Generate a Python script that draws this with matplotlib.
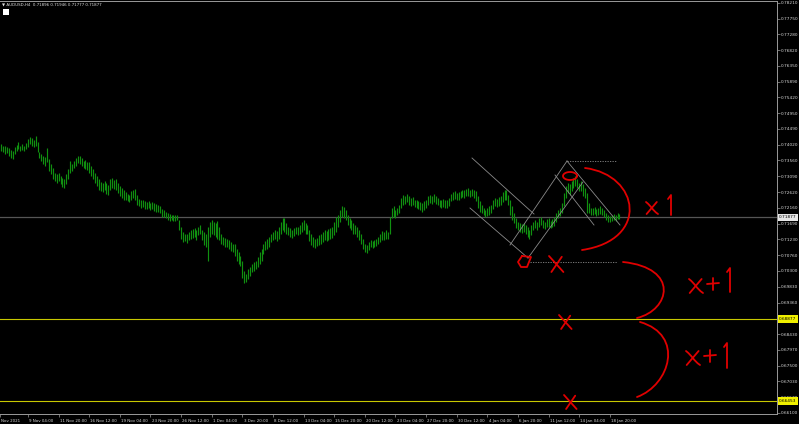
import numpy as np
import matplotlib
matplotlib.use("Agg")
import matplotlib.pyplot as plt
import matplotlib.transforms as mtransforms
from matplotlib.path import Path
from matplotlib.patches import PathPatch, Rectangle

# AUDUSD H4 bars, prices in pips (x 1e-4)
highs = [7405, 7400, 7398, 7395, 7392, 7388, 7385, 7395, 7402, 7410, 7400, 7405, 7398, 7408, 7420, 7425,
         7422, 7415, 7428, 7410, 7382, 7375, 7370, 7365, 7392, 7360, 7345, 7335, 7320, 7315, 7318, 7310,
         7305, 7300, 7315, 7330, 7355, 7345, 7355, 7362, 7370, 7368, 7362, 7355, 7358, 7352, 7350, 7340,
         7330, 7318, 7310, 7300, 7292, 7288, 7295, 7288, 7282, 7300, 7305, 7298, 7300, 7290, 7280, 7275,
         7268, 7262, 7258, 7255, 7265, 7270, 7272, 7255, 7242, 7238, 7240, 7235, 7232, 7235, 7230, 7233,
         7230, 7228, 7225, 7220, 7212, 7210, 7205, 7200, 7198, 7196, 7195, 7194, 7196, 7180, 7160, 7145,
         7140, 7138, 7145, 7150, 7152, 7155, 7150, 7160, 7165, 7150, 7145, 7140, 7160, 7175, 7180, 7175,
         7172, 7178, 7160, 7140, 7130, 7128, 7125, 7120, 7115, 7110, 7108, 7095, 7085, 7075, 7060, 7030,
         7020, 7035, 7040, 7050, 7055, 7058, 7070, 7085, 7095, 7110, 7118, 7125, 7130, 7140, 7145, 7150,
         7148, 7160, 7175, 7185, 7186, 7170, 7160, 7155, 7150, 7155, 7160, 7158, 7165, 7175, 7180, 7170,
         7165, 7150, 7140, 7130, 7125, 7128, 7135, 7140, 7145, 7150, 7148, 7152, 7155, 7158, 7175, 7190,
         7195, 7210, 7220, 7218, 7210, 7195, 7185, 7180, 7170, 7165, 7160, 7150, 7140, 7125, 7110, 7105,
         7115, 7120, 7118, 7122, 7125, 7130, 7140, 7148, 7145, 7150, 7145, 7190, 7215, 7220, 7210, 7215,
         7225, 7245, 7255, 7250, 7258, 7250, 7245, 7248, 7240, 7238, 7235, 7232, 7230, 7235, 7240, 7250,
         7255, 7252, 7258, 7250, 7245, 7240, 7238, 7242, 7240, 7238, 7245, 7258, 7262, 7265, 7260, 7262,
         7265, 7270, 7268, 7272, 7275, 7270, 7272, 7268, 7265, 7250, 7235, 7225, 7215, 7210, 7215, 7220,
         7225, 7240, 7245, 7242, 7248, 7250, 7262, 7268, 7270, 7255, 7240, 7220, 7200, 7185, 7175, 7170,
         7168, 7172, 7165, 7160, 7150, 7165, 7175, 7180, 7175, 7185, 7190, 7180, 7175, 7182, 7185, 7178,
         7182, 7188, 7200, 7210, 7215, 7230, 7260, 7280, 7290, 7285, 7295, 7305, 7310, 7300, 7290, 7295,
         7285, 7275, 7260, 7230, 7215, 7215, 7218, 7212, 7216, 7220, 7215, 7210, 7200, 7195, 7192, 7195,
         7198, 7195, 7200, 7198]
lows = [7385, 7380, 7375, 7378, 7370, 7362, 7360, 7375, 7385, 7390, 7383, 7388, 7385, 7390, 7395, 7405,
        7400, 7395, 7400, 7380, 7362, 7355, 7345, 7340, 7350, 7325, 7315, 7300, 7295, 7290, 7295, 7285,
        7278, 7275, 7285, 7300, 7320, 7325, 7335, 7340, 7348, 7345, 7340, 7335, 7330, 7328, 7320, 7310,
        7300, 7290, 7280, 7270, 7265, 7262, 7270, 7258, 7255, 7268, 7275, 7272, 7270, 7260, 7250, 7245,
        7240, 7240, 7235, 7232, 7240, 7245, 7240, 7225, 7220, 7215, 7218, 7212, 7212, 7215, 7210, 7212,
        7208, 7205, 7205, 7200, 7190, 7188, 7186, 7180, 7178, 7180, 7178, 7178, 7180, 7150, 7125, 7115,
        7118, 7112, 7120, 7125, 7128, 7130, 7120, 7135, 7140, 7120, 7105, 7100, 7060, 7130, 7140, 7135,
        7130, 7125, 7120, 7110, 7105, 7100, 7100, 7095, 7088, 7085, 7075, 7060, 7050, 7045, 7010, 6994,
        6998, 7005, 7015, 7025, 7030, 7035, 7040, 7050, 7060, 7080, 7090, 7095, 7100, 7115, 7120, 7125,
        7118, 7125, 7140, 7150, 7145, 7140, 7135, 7130, 7128, 7133, 7138, 7135, 7140, 7145, 7150, 7140,
        7138, 7118, 7105, 7100, 7098, 7102, 7105, 7110, 7115, 7120, 7118, 7122, 7125, 7128, 7135, 7145,
        7160, 7175, 7190, 7185, 7180, 7165, 7155, 7150, 7140, 7138, 7130, 7120, 7110, 7095, 7085, 7082,
        7092, 7100, 7098, 7100, 7102, 7108, 7115, 7120, 7122, 7125, 7125, 7140, 7185, 7190, 7185, 7195,
        7200, 7215, 7225, 7228, 7232, 7225, 7222, 7225, 7218, 7216, 7212, 7210, 7205, 7210, 7215, 7225,
        7230, 7228, 7232, 7226, 7225, 7218, 7215, 7218, 7215, 7215, 7220, 7235, 7240, 7242, 7238, 7240,
        7245, 7248, 7245, 7250, 7252, 7248, 7250, 7245, 7235, 7215, 7205, 7200, 7195, 7188, 7192, 7195,
        7200, 7212, 7220, 7218, 7222, 7225, 7232, 7240, 7238, 7225, 7195, 7180, 7170, 7155, 7150, 7145,
        7142, 7145, 7140, 7130, 7125, 7135, 7150, 7155, 7150, 7160, 7165, 7155, 7152, 7158, 7160, 7155,
        7158, 7162, 7175, 7185, 7192, 7200, 7220, 7245, 7260, 7255, 7265, 7275, 7280, 7275, 7265, 7265,
        7250, 7245, 7200, 7200, 7195, 7195, 7198, 7192, 7196, 7198, 7195, 7190, 7180, 7175, 7175, 7178,
        7180, 7178, 7182, 7182]

time_labels = ["Nov 2021", "9 Nov 04:00", "11 Nov 20:00", "16 Nov 12:00", "19 Nov 04:00", "23 Nov 20:00",
               "26 Nov 12:00", "1 Dec 04:00", "3 Dec 20:00", "8 Dec 12:00", "13 Dec 04:00", "15 Dec 20:00",
               "20 Dec 12:00", "23 Dec 04:00", "27 Dec 20:00", "30 Dec 12:00", "4 Jan 04:00", "6 Jan 20:00",
               "11 Jan 12:00", "14 Jan 04:00", "18 Jan 20:00"]
time_ticks = [-0.6] + [14 + 16 * k for k in range(20)]

price_labels = ["0.78210", "0.77750", "0.77280", "0.76820", "0.76350", "0.75890", "0.75420", "0.74950",
                "0.74490", "0.74020", "0.73560", "0.73090", "0.72620", "0.72160", "0.71690", "0.71230",
                "0.70760", "0.70300", "0.69830", "0.69360", "0.68430", "0.67970", "0.67500", "0.67030",
                "0.66570", "0.66100"]

last_price = 0.71877
levels = [0.68877, 0.66453]
header = "AUDUSD,H4  0.71896 0.71946 0.71777 0.71877"

W, H = 799, 424
fig = plt.figure(figsize=(W / 100, H / 100), dpi=100, facecolor="black")
ax = fig.add_axes([0, 10 / H, 777 / W, 413 / H], facecolor="black")

px_bar = 1.914
x0 = 1.2
ax.set_xlim(-x0 / px_bar, (777 - x0) / px_bar)
ax.set_ylim(0.66070, 0.78269)

idx = np.arange(len(highs))
ax.vlines(idx, np.array(lows) / 1e4, np.array(highs) / 1e4, colors="#109010", linewidth=0.85, zorder=3)

# price lines
ax.axhline(last_price, color="#555555", lw=0.9, zorder=2)
for lv in levels:
    ax.axhline(lv, color="#c8c800", lw=0.8, zorder=2)

# axes styling
ax.spines["left"].set_visible(False)
for s in ["right", "bottom", "top"]:
    ax.spines[s].set_color("#9a9a9a")
    ax.spines[s].set_linewidth(0.7)
ax.yaxis.tick_right()
ax.set_yticks([float(p) for p in price_labels])
ax.set_yticklabels(price_labels)
ax.set_xticks(time_ticks)
ax.set_xticklabels(time_labels, ha="left")
ax.tick_params(axis="y", colors="#9a9a9a", labelcolor="#d8d8d8", labelsize=3.1, length=2, width=0.5, pad=1)
ax.tick_params(axis="x", colors="#9a9a9a", labelcolor="#d8d8d8", labelsize=2.9, length=2.5, width=0.5, pad=1)
offset = mtransforms.ScaledTranslation(0.012, 0, fig.dpi_scale_trans)
for lbl in ax.get_xticklabels():
    lbl.set_transform(lbl.get_transform() + offset)

# pixel transform (x right, y down, screenshot pixels)
pix = mtransforms.Affine2D().scale(0.01, -0.01).translate(0, H / 100) + fig.dpi_scale_trans

def ptext(x, y, s, **kw):
    fig.text(x, y, s, transform=pix, **kw)

# price tags on the axis
def tag(price, face):
    yp = 3 + (0.78210 - price) / 0.1211 * 410
    fig.patches.append(Rectangle((778, yp - 3.8), 20, 7.6, transform=pix, facecolor=face,
                                 edgecolor="none", zorder=5))
    ptext(779, yp, "%.5f" % price, fontsize=3.1, color="black", va="center", zorder=6)

tag(last_price, "#e6e6e6")
for lv in levels:
    tag(lv, "#f0f000")

# header
ptext(2, 5, "\u25bc " + header, fontsize=2.9, color="#e0e0e0", va="center")
fig.patches.append(Rectangle((3, 9), 6, 6, transform=pix, facecolor="white", edgecolor="none"))

def line(pts, **kw):
    xs, ys = zip(*pts)
    fig.add_artist(plt.Line2D(xs, ys, transform=pix, **kw))

# trend channels drawn on the chart
gray = dict(color="#8a8a8a", lw=0.6)
line([(472, 158), (534, 214)], **gray)
line([(470, 208), (528, 258)], **gray)
line([(510, 245), (567, 161)], **gray)
line([(528, 258), (583, 182)], **gray)
line([(555, 175), (594, 225)], **gray)
line([(567, 161), (620, 225)], **gray)
line([(567, 161), (617, 161)], color="#8a8a8a", lw=0.6, ls=(0, (1.5, 1.5)))
line([(530, 262), (617, 262)], color="#8a8a8a", lw=0.6, ls=(0, (1.5, 1.5)))

# red freehand marks
red = dict(color="#e00000", lw=1.3, solid_capstyle="round", solid_joinstyle="round")

def curve(pts, **kw):
    codes = [Path.MOVETO] + [Path.CURVE4] * (len(pts) - 1)
    fig.patches.append(PathPatch(Path(pts, codes), transform=pix, facecolor="none",
                                 edgecolor=kw.get("color"), lw=kw.get("lw"), capstyle="round"))

def cross(cx, cy, s):
    line([(cx - s, cy - s), (cx + s * 0.8, cy + s)], **red)
    line([(cx + s * 0.6, cy - s * 0.9), (cx - s * 0.7, cy + s)], **red)

# ellipse around the top
t = np.linspace(0, 2 * np.pi, 60)
line(list(zip(570 + 7 * np.cos(t), 176 + 4 * np.sin(t))), **red)
# small loop at the bottom
line([(522, 256), (518, 262), (521, 267), (527, 267), (531, 257), (522, 256)], **red)

cross(557, 264, 8)
cross(566, 322, 7)
cross(571, 402, 7)

curve([(585, 168), (640, 175), (650, 240), (582, 250)], **red)
curve([(623, 262), (680, 268), (670, 310), (637, 318)], **red)
curve([(640, 322), (685, 335), (670, 385), (637, 397)], **red)

def xmark(cx, cy, s):
    curve([(cx - s, cy - s), (cx, cy - s * 0.2), (cx, cy + s * 0.3), (cx + s, cy + s)], **red)
    line([(cx + s * 0.8, cy - s), (cx - s * 0.9, cy + s)], **red)

def one(cx, top, bot):
    line([(cx - 3, top + 4), (cx, top), (cx, bot)], **red)

def plus(cx, cy, s):
    line([(cx - s, cy), (cx + s, cy - 1)], **red)
    line([(cx, cy - s), (cx, cy + s)], **red)

xmark(652, 208, 6)
one(671, 195, 215)
xmark(696, 286, 7)
plus(713, 284, 6)
one(730, 268, 292)
xmark(693, 358, 7)
plus(710, 356, 6)
one(727, 343, 368)

fig.savefig("out.png", dpi=100, facecolor="black")
